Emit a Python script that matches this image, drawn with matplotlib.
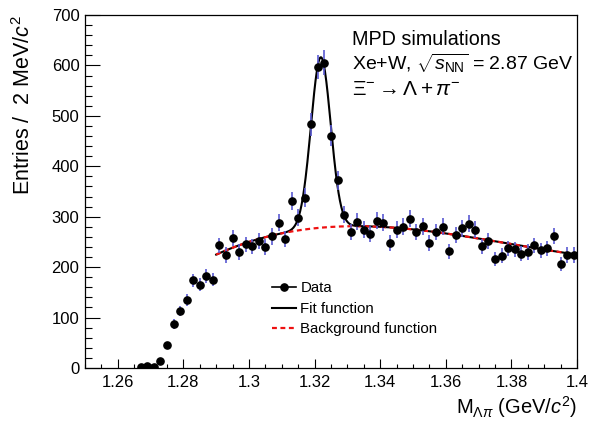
import numpy as np
import matplotlib
matplotlib.use("Agg")
import matplotlib.pyplot as plt
from matplotlib.lines import Line2D
from matplotlib.ticker import MultipleLocator, FuncFormatter

plt.rcParams["font.family"] = ["Liberation Sans", "DejaVu Sans"]
plt.rcParams["mathtext.fontset"] = "custom"
plt.rcParams["mathtext.rm"] = "Liberation Sans"
plt.rcParams["mathtext.it"] = "Liberation Sans:italic"
plt.rcParams["mathtext.bf"] = "Liberation Sans:bold"
plt.rcParams["mathtext.sf"] = "Liberation Sans"

# Histogram binning: 2 MeV bins between 1.25 and 1.40 GeV
bin_lo = 1.25
bin_width = 0.002
n_bins = 75

# Entries per bin (Lambda-pi invariant mass)
counts = [
    0, 0, 0, 0, 0, 0, 0, 0,
    1, 3, 1, 14, 45, 87, 113, 135, 174, 165, 182, 175,
    243, 224, 257, 230, 245, 241, 252, 240, 261, 288,
    256, 331, 298, 338, 483, 597, 605, 461, 372, 304,
    270, 290, 274, 266, 292, 288, 248, 274, 280, 296,
    270, 281, 248, 270, 280, 231, 264, 277, 286, 274,
    241, 251, 216, 223, 237, 235, 227, 230, 243, 233,
    237, 262, 206, 224, 224,
]

# Fit model: Gaussian signal on a cubic background, fitted over 1.29-1.40
fit_range = (1.29, 1.40)
bg_center = 1.33
bg_coeffs = [281.0, 1.2866, -2.5122, 0.16892]  # in powers of (m - 1.33)*100
sig_amp = 338.0
sig_mean = 1.3219
sig_sigma = 0.0030


def background(m):
    t = (m - bg_center) * 100.0
    return sum(c * t ** k for k, c in enumerate(bg_coeffs))


def fit_function(m):
    return background(m) + sig_amp * np.exp(-0.5 * ((m - sig_mean) / sig_sigma) ** 2)


centers = bin_lo + bin_width * (np.arange(n_bins) + 0.5)
counts = np.array(counts, dtype=float)
filled = counts > 0

fig = plt.figure(figsize=(5.91, 4.26), dpi=100)
ax = fig.add_axes([0.1438, 0.1362, 0.8325, 0.8286])

m_fit = np.linspace(fit_range[0], fit_range[1], 800)
ax.plot(m_fit, fit_function(m_fit), color="black", lw=1.5, zorder=2)
ax.plot(m_fit, background(m_fit), color="#ee1111", lw=1.6, ls=(0, (2.2, 1.6)), zorder=2.5)

ax.errorbar(centers[filled], counts[filled], yerr=np.sqrt(counts[filled]),
            fmt="o", color="black", ms=5.2, ecolor="#5a5ad2", elinewidth=1.2,
            capsize=0, zorder=3)

ax.set_xlim(1.25, 1.40)
ax.set_ylim(0, 700)

ax.xaxis.set_major_locator(MultipleLocator(0.02))
ax.xaxis.set_minor_locator(MultipleLocator(0.005))
ax.yaxis.set_major_locator(MultipleLocator(100))
ax.yaxis.set_minor_locator(MultipleLocator(20))
ax.xaxis.set_major_formatter(FuncFormatter(lambda v, p: f"{v:g}"))

ax.tick_params(which="both", direction="in", top=False, right=False,
               labelsize=12, colors="black")
ax.xaxis.set_tick_params(which="major", length=6.5, width=0.8, pad=5)
ax.xaxis.set_tick_params(which="minor", length=3.2, width=0.8)
ax.yaxis.set_tick_params(which="major", length=10.5, width=0.8, pad=4)
ax.yaxis.set_tick_params(which="minor", length=5.2, width=0.8)
for sp in ax.spines.values():
    sp.set_linewidth(0.9)

ax.set_ylabel(r"Entries /  2 MeV/$c^{2}$", fontsize=15.5, loc="top")
ax.yaxis.set_label_coords(-0.102, 1.0)
ax.set_xlabel(r"M$_{\Lambda\pi}$ (GeV/$c^{2}$)", fontsize=14.5, loc="right")
ax.xaxis.set_label_coords(1.0, -0.075)

fig.text(0.5956, 0.8944, "MPD simulations", fontsize=14.2, va="baseline")
fig.text(0.5956, 0.8357, r"Xe+W, $\sqrt{s_{\mathrm{NN}}}$ = 2.87 GeV", fontsize=14.0, va="baseline")
fig.text(0.5956, 0.777, r"$\Xi^{-} \rightarrow \Lambda + \pi^{-}$", fontsize=15.0, va="baseline")

handles = [
    Line2D([], [], color="black", lw=1.2, marker="o", ms=5.2),
    Line2D([], [], color="black", lw=1.5),
    Line2D([], [], color="#ee1111", lw=1.6, ls=(0, (2.2, 1.6))),
]
labels = ["Data", "Fit function", "Background function"]
ax.legend(handles, labels, loc="upper left", bbox_to_anchor=(0.38, 0.245),
          frameon=False, fontsize=10.8, handlelength=1.6, handletextpad=0.3,
          labelspacing=0.42, borderpad=0, borderaxespad=0)

fig.savefig("out.png", dpi=100)
